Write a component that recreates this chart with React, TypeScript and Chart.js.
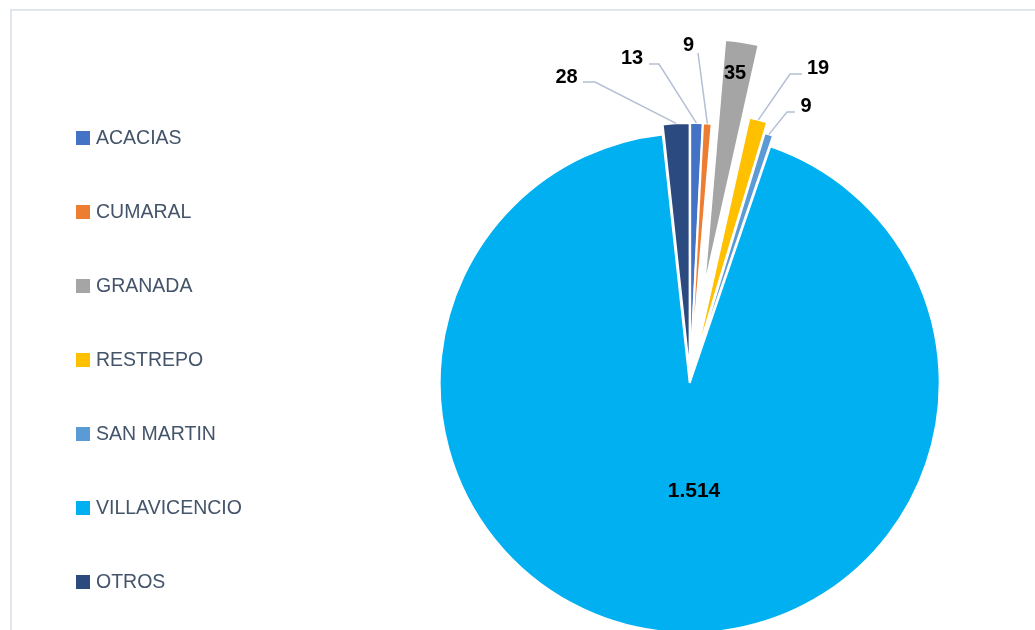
import React, { useEffect, useRef } from "react";
import { Chart, registerables } from "chart.js";
Chart.register(...registerables);

const categories = ["ACACIAS", "CUMARAL", "GRANADA", "RESTREPO", "SAN MARTIN", "VILLAVICENCIO", "OTROS"];
const values = [13, 9, 35, 19, 9, 1514, 28];
const colors = ["#4472c4", "#ed7d31", "#a5a5a5", "#ffc000", "#5b9bd5", "#00b0f0", "#2b4a80"];
// explosion distance of each slice, in px
const explode = [7, 7, 92, 19, 8, 3, 7];

// label placement relative to pie centre (styling only)
const labelLayout = [
  { x: -58, y: -321.5, line: [[-41, -316], [-31, -316]], size: 20 },
  { x: -1.5, y: -334.5, line: [[8, -327]], size: 20 },
  { x: 45, y: -307, line: null, size: 20 },
  { x: 128, y: -312, line: [[112, -306], [100, -306]], size: 20 },
  { x: 116, y: -274, line: [[105, -268], [97, -268]], size: 20 },
  { x: 4, y: 111.5, line: null, size: 21 },
  { x: -123.5, y: -303, line: [[-107, -298], [-95, -298]], size: 20 },
];

const FONT = "'Liberation Sans', Arial, sans-serif";

function fmt(v: number): string {
  return String(v).replace(/\B(?=(\d{3})+(?!\d))/g, ".");
}

// translate each slice outwards along its mid-angle (Excel style "explode")
const explodePlugin = {
  id: "explodePlugin",
  afterDatasetsUpdate(chart: any) {
    const meta = chart.getDatasetMeta(0);
    meta.data.forEach((arc: any, i: number) => {
      const mid = (arc.startAngle + arc.endAngle) / 2;
      arc.x += Math.cos(mid) * explode[i];
      arc.y += Math.sin(mid) * explode[i];
    });
  },
};

const labelsPlugin = {
  id: "pieLabels",
  afterDatasetsDraw(chart: any) {
    const ctx = chart.ctx;
    const meta = chart.getDatasetMeta(0);
    const ca = chart.chartArea;
    const cx = (ca.left + ca.right) / 2;
    const cy = (ca.top + ca.bottom) / 2;
    meta.data.forEach((arc: any, i: number) => {
      const L = labelLayout[i];
      const mid = (arc.startAngle + arc.endAngle) / 2;
      const px = arc.x + Math.cos(mid) * arc.outerRadius;
      const py = arc.y + Math.sin(mid) * arc.outerRadius;
      ctx.save();
      if (L.line) {
        ctx.strokeStyle = "#b3c0d3";
        ctx.lineWidth = 1.5;
        ctx.beginPath();
        ctx.moveTo(cx + L.line[0][0], cy + L.line[0][1]);
        for (let k = 1; k < L.line.length; k++) ctx.lineTo(cx + L.line[k][0], cy + L.line[k][1]);
        ctx.lineTo(px, py);
        ctx.stroke();
      }
      ctx.fillStyle = "#000000";
      ctx.font = `bold ${L.size}px ${FONT}`;
      ctx.textAlign = "center";
      ctx.textBaseline = "middle";
      ctx.fillText(fmt(values[i]), cx + L.x, cy + L.y);
      ctx.restore();
    });
  },
};

const legendPlugin = {
  id: "sideLegend",
  afterDraw(chart: any) {
    const ctx = chart.ctx;
    ctx.save();
    categories.forEach((c, i) => {
      const y = 138 + 74 * i;
      ctx.fillStyle = colors[i];
      ctx.fillRect(76, y - 7, 14, 14);
      ctx.fillStyle = "#44546a";
      ctx.font = `19.5px ${FONT}`;
      ctx.textAlign = "left";
      ctx.textBaseline = "middle";
      ctx.fillText(c, 96, y + 1);
    });
    ctx.restore();
  },
};

export default function App() {
  const ref = useRef<HTMLCanvasElement | null>(null);
  useEffect(() => {
    if (!ref.current) return;
    const chart = new Chart(ref.current, {
      type: "pie",
      data: {
        labels: categories,
        datasets: [
          {
            data: values,
            backgroundColor: colors,
            borderColor: "#ffffff",
            borderWidth: 2,
            clip: false as any,
          },
        ],
      },
      options: {
        animation: false,
        responsive: false,
        maintainAspectRatio: false,
        events: [],
        radius: 250,
        layout: { padding: { left: 400, right: 55, top: 130, bottom: 0 } },
        plugins: { legend: { display: false }, tooltip: { enabled: false } },
      } as any,
      plugins: [explodePlugin, labelsPlugin, legendPlugin],
    });
    return () => chart.destroy();
  }, []);
  return (
    <div style={{ position: "fixed", left: 0, top: 0, width: 1035, height: 630, overflow: "hidden", background: "#fff" }}>
      <div
        style={{
          position: "absolute",
          left: 10,
          top: 9,
          width: 1100,
          height: 700,
          borderLeft: "2px solid #e1e5ec",
          borderTop: "2px solid #e1e5ec",
        }}
      />
      <canvas ref={ref} width={1035} height={630} style={{ position: "absolute", left: 0, top: 0, width: 1035, height: 630 }} />
    </div>
  );
}
